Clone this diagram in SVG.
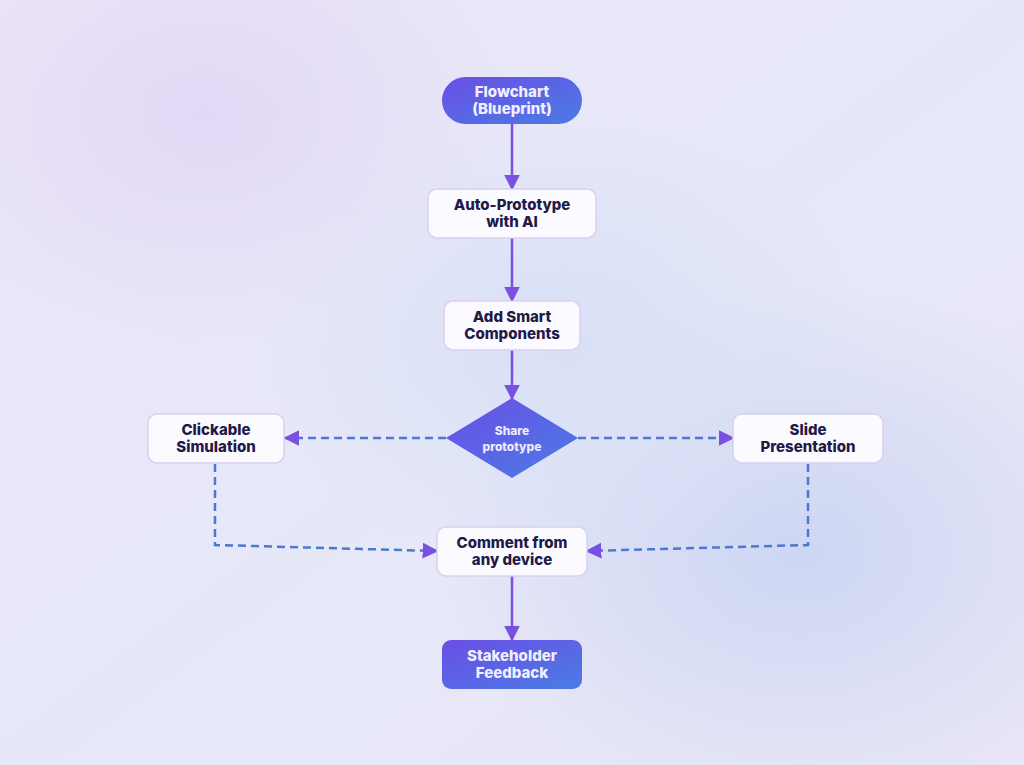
<svg xmlns="http://www.w3.org/2000/svg" width="1024" height="765" viewBox="0 0 1024 765">
<defs>
<linearGradient id="bg" x1="0" y1="0" x2="1" y2="1">
<stop offset="0" stop-color="#ece6f8"/>
<stop offset="0.5" stop-color="#e6e8f8"/>
<stop offset="1" stop-color="#e9e6f6"/>
</linearGradient>
<radialGradient id="glow1" cx="0.78" cy="0.72" r="0.35">
<stop offset="0" stop-color="#cdd6f3"/>
<stop offset="1" stop-color="#cdd6f3" stop-opacity="0"/>
</radialGradient>
<radialGradient id="glow2" cx="0.2" cy="0.15" r="0.3">
<stop offset="0" stop-color="#e2d8f6"/>
<stop offset="1" stop-color="#e2d8f6" stop-opacity="0"/>
</radialGradient>
<radialGradient id="glow3" cx="0.55" cy="0.45" r="0.3">
<stop offset="0" stop-color="#d8e0f6"/>
<stop offset="1" stop-color="#d8e0f6" stop-opacity="0"/>
</radialGradient>
<linearGradient id="grad" x1="0" y1="0" x2="1" y2="1">
<stop offset="0" stop-color="#6a4ee6"/>
<stop offset="1" stop-color="#4a7ce4"/>
</linearGradient>
<marker id="ah" viewBox="0 0 10 10" refX="9" refY="5" markerWidth="16" markerHeight="16" markerUnits="userSpaceOnUse" orient="auto">
<path d="M0,0 L10,5 L0,10 Z" fill="#7a50e2"/>
</marker>
<style>
.box{fill:#fbfaff;stroke:#d9d0f2;stroke-width:1.5}
.dark{fill:url(#grad)}
.t{font-family:Inter,"Open Sans",sans-serif;font-weight:800;font-size:15px;fill:#1f1a48;text-anchor:middle}
.tw{font-family:Inter,"Open Sans",sans-serif;font-weight:800;font-size:15px;fill:#f1efff;text-anchor:middle}
.ts{font-family:Inter,"Open Sans",sans-serif;font-weight:800;font-size:12px;fill:#eeeaff;text-anchor:middle}
.solid{fill:none;stroke:#7a50e2;stroke-width:2.5}
.dash{fill:none;stroke:#4d78d2;stroke-width:2.5;stroke-dasharray:8 5}
</style>
</defs>
<rect width="1024" height="765" fill="url(#bg)"/>
<rect width="1024" height="765" fill="url(#glow1)"/>
<rect width="1024" height="765" fill="url(#glow2)"/>
<rect width="1024" height="765" fill="url(#glow3)"/>

<g id="connectors">
<line class="solid" x1="512" y1="124" x2="512" y2="189" marker-end="url(#ah)"/>
<line class="solid" x1="512" y1="238" x2="512" y2="301" marker-end="url(#ah)"/>
<line class="solid" x1="512" y1="350" x2="512" y2="399" marker-end="url(#ah)"/>
<line class="solid" x1="512" y1="576" x2="512" y2="640" marker-end="url(#ah)"/>
<line class="dash" x1="446" y1="438" x2="285" y2="438" marker-end="url(#ah)"/>
<line class="dash" x1="578" y1="438" x2="733" y2="438" marker-end="url(#ah)"/>
<polyline class="dash" points="215,464 215,545 437,551" marker-end="url(#ah)"/>
<polyline class="dash" points="808,464 808,545 587,551" marker-end="url(#ah)"/>
</g>

<g id="flowchart">
<rect class="dark" x="442" y="77" width="140" height="47" rx="23.5"/>
<text class="tw" x="512" y="97">Flowchart</text>
<text class="tw" x="512" y="114">(Blueprint)</text>
</g>
<g id="autoproto">
<rect class="box" x="428" y="189" width="168" height="49" rx="9"/>
<text class="t" x="512" y="210">Auto-Prototype</text>
<text class="t" x="512" y="227">with AI</text>
</g>
<g id="smart">
<rect class="box" x="444" y="301" width="136" height="49" rx="9"/>
<text class="t" x="512" y="322">Add Smart</text>
<text class="t" x="512" y="339">Components</text>
</g>
<g id="share">
<polygon class="dark" points="512,398 578,438 512,478 446,438"/>
<text class="ts" x="512" y="435">Share</text>
<text class="ts" x="512" y="451">prototype</text>
</g>
<g id="clickable">
<rect class="box" x="148" y="414" width="136" height="49" rx="9"/>
<text class="t" x="216" y="435">Clickable</text>
<text class="t" x="216" y="452">Simulation</text>
</g>
<g id="slide">
<rect class="box" x="733" y="414" width="150" height="49" rx="9"/>
<text class="t" x="808" y="435">Slide</text>
<text class="t" x="808" y="452">Presentation</text>
</g>
<g id="comment">
<rect class="box" x="437" y="527" width="150" height="49" rx="9"/>
<text class="t" x="512" y="548">Comment from</text>
<text class="t" x="512" y="565">any device</text>
</g>
<g id="stakeholder">
<rect class="dark" x="442" y="640" width="140" height="49" rx="9"/>
<text class="tw" x="512" y="661">Stakeholder</text>
<text class="tw" x="512" y="678">Feedback</text>
</g>
</svg>
